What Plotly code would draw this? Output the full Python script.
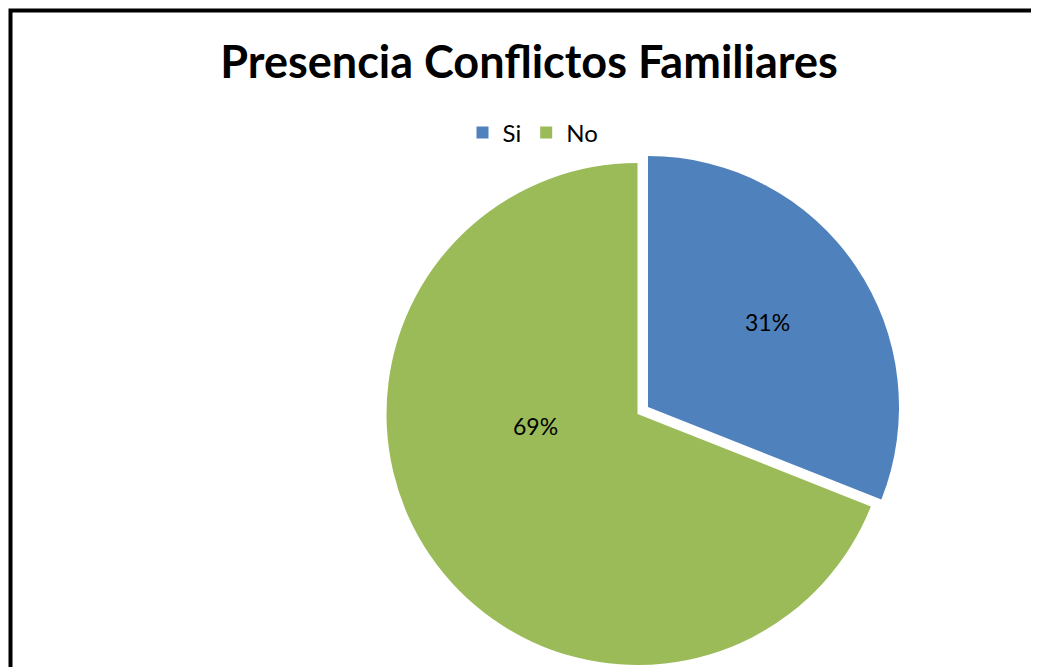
import plotly.graph_objects as go

# ---- data ----
labels = ["Si", "No"]
values = [31, 69]
colors = ["#4F81BD", "#9BBB59"]
title_text = "Presencia Conflictos Familiares"

PAD = 8  # page body margin
W, H = 1039 - PAD, 667 - PAD
FONT = "Lato, 'Open Sans', sans-serif"

# pie geometry (page pixels)
R = 251
cx, cy = 637.5, 414          # centre of the main pie
off_x, off_y = 10.5, -7      # offset of the exploded slice


def px(x):
    return (x - PAD) / W


def py(y):
    return 1 - (y - PAD) / H


def dom(cxp, cyp, r):
    return dict(x=[px(cxp - r), px(cxp + r)], y=[max(0, py(cyp + r)), py(cyp - r)])


clear = "rgba(0,0,0,0)"
total = sum(values)
pct = [f"{round(100 * v / total)}%" for v in values]

fig = go.Figure()

# legend source (tiny, hidden underneath)
fig.add_trace(go.Pie(labels=labels, values=values, sort=False, direction="clockwise",
                     marker=dict(colors=colors), textinfo="none", hoverinfo="skip",
                     domain=dom(cx, cy, 0.01)))

# main (green) slice
fig.add_trace(go.Pie(labels=labels, values=values, sort=False, direction="clockwise",
                     marker=dict(colors=[clear, colors[1]], line=dict(width=0)),
                     textinfo="none", domain=dom(cx, cy, R)))

# exploded (blue) slice
fig.add_trace(go.Pie(labels=labels, values=values, sort=False, direction="clockwise",
                     marker=dict(colors=[colors[0], clear], line=dict(width=0)),
                     textinfo="none", domain=dom(cx + off_x, cy + off_y, R)))

# data labels
label_pos = [(767, 322), (535, 426)]
for txt, (lx, ly) in zip(pct, label_pos):
    fig.add_annotation(text=txt, x=px(lx), y=py(ly), xref="paper", yref="paper",
                       xanchor="center", yanchor="middle", showarrow=False,
                       font=dict(family=FONT, size=23, color="#000000"))

# chart-area border (left and top edges visible)
fig.add_shape(type="path", xref="paper", yref="paper",
              path=f"M {px(10.5)} 0 L {px(10.5)} {py(10.5)} L 1 {py(10.5)}",
              line=dict(color="black", width=4))

fig.update_layout(
    width=W, height=H,
    margin=dict(l=0, r=0, t=0, b=0),
    paper_bgcolor="white", plot_bgcolor="white",
    title=dict(text=f"<b>{title_text}</b>", x=px(529), xanchor="center",
               y=py(62), yanchor="middle",
               font=dict(family=FONT, size=45, color="#000000")),
    showlegend=True,
    legend=dict(orientation="h", x=px(533), xanchor="center",
                y=py(133), yanchor="middle",
                font=dict(family=FONT, size=24, color="#000000"),
                itemclick=False, itemdoubleclick=False),
)

fig.write_html("out.html", config={"displayModeBar": False})
